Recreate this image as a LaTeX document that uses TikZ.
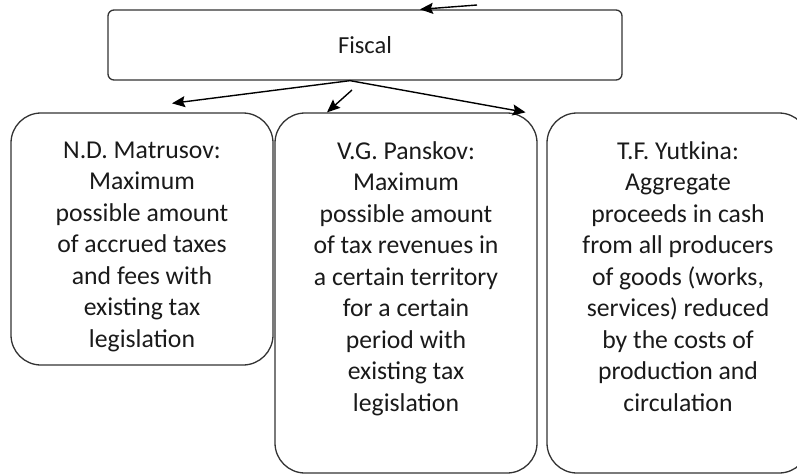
\documentclass[tikz,border=0pt]{standalone}
\usepackage{fontspec}
\setmainfont{Carlito}
\usetikzlibrary{arrows.meta,positioning,calc}
\definecolor{edge}{HTML}{333333}
\definecolor{ink}{HTML}{1A1A1A}

\begin{document}
\begin{tikzpicture}[x=1pt,y=-1pt,
  box/.style={draw=edge,line width=1.3pt,rounded corners=30pt,
    minimum width=262pt,inner sep=0pt},
  topbox/.style={draw=edge,line width=1.3pt,rounded corners=6pt,
    minimum width=514pt,minimum height=70pt,inner sep=0pt,
    text=ink,font=\fontsize{24.5}{29}\selectfont},
  txt/.style={inner sep=0pt,align=center,text=ink,
    font=\fontsize{25.7}{31.5}\selectfont},
  arr/.style={draw=black,line width=1.4pt,
    -{Stealth[length=13pt,width=11pt,inset=2pt]}}
]
  \useasboundingbox (0,0) rectangle (797,474);

  % the top box
  \node[topbox] (fiscal) at (365,45) {Fiscal};

  % the three boxes below
  \node[box,minimum height=252pt] (matrusov) at (142,239) {};
  \node[box,minimum height=360pt] (panskov) at (406,293) {};
  \node[box,minimum height=360pt] (yutkina) at (678,293) {};

  % their texts
  \node[txt,anchor=north,below=29pt of matrusov.north] (matrusovtxt)
    {N.D. Matrusov:\\Maximum\\possible amount\\of accrued taxes\\and fees with\\existing tax\\legislation};
  \node[txt,anchor=north,below=29pt of panskov.north] (panskovtxt)
    {V.G. Panskov:\\Maximum\\possible amount\\of tax revenues in\\a certain territory\\for a certain\\period with\\existing tax\\legislation};
  \node[txt,anchor=north,below=29pt of yutkina.north] (yutkinatxt)
    {T.F. Yutkina:\\Aggregate\\proceeds in cash\\from all producers\\of goods (works,\\services) reduced\\by the costs of\\production and\\circulation};

  % arrows
  \coordinate (topin) at (477,5);
  \coordinate (fork) at ($(fiscal.south)+(-15,0)$);
  \coordinate (midin) at (352,90);
  \draw[arr] (topin) -- ($(fiscal.north)+(55,0)$);
  \draw[arr] (fork) -- ($(matrusov.north)+(30,-9)$);
  \draw[arr] (fork) -- ($(panskov.north east)+(-12,0)$);
  \draw[arr] (midin) -- ($(panskov.north)+(-79,0)$);
\end{tikzpicture}
\end{document}
